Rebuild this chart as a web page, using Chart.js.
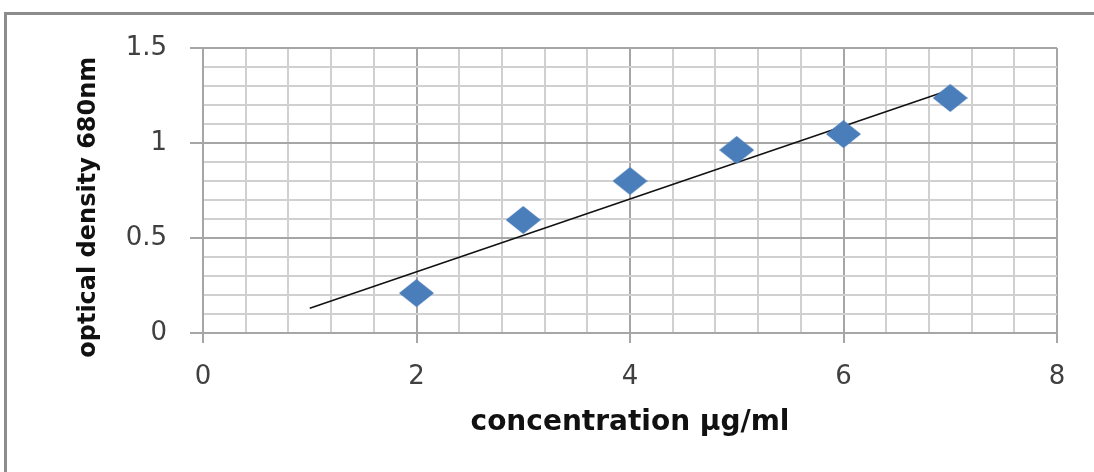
<!DOCTYPE html>
<html>
<head>
<meta charset="utf-8">
<script src="https://cdn.jsdelivr.net/npm/chart.js@4"></script>
<style>
    body { margin: 0; background: #fff; }
    #wrap { position: relative; width: 1094px; height: 472px; }
    #frame { position: absolute; left: 4px; top: 12px; right: -4px; bottom: -4px; border: 3px solid #8c8c8c; }
    #myChart { position: absolute; left: 0; top: 0; }
</style>
</head>
<body>
<div id="wrap">
    <div id="frame"></div>
    <canvas id="myChart" width="1094" height="472"></canvas>
</div>
<script>
// concentration (µg/ml) and measured optical density
var concentration = [2, 3, 4, 5, 6, 7]
var density = [0.21, 0.595, 0.80, 0.963, 1.047, 1.237]
// trend line as drawn in the picture (ends)
var trendX = [1, 7]
var trendY = [0.13, 1.28]

var xMajor = [0, 2, 4, 6, 8]
var yMajor = [0, 0.5, 1, 1.5]

diagram()

function isMajor(v, list) {
    return list.some(function (m) { return Math.abs(m - v) < 1e-6 })
}

function diamond() {
    var c = document.createElement('canvas')
    c.width = 35
    c.height = 28
    var g = c.getContext('2d')
    g.fillStyle = '#4a7ebb'
    g.beginPath()
    g.moveTo(17.5, 0)
    g.lineTo(35, 14)
    g.lineTo(17.5, 28)
    g.lineTo(0, 14)
    g.closePath()
    g.fill()
    return c
}

function diagram() {
    const ctx = document.getElementById('myChart');
    var pts = concentration.map(function (x, i) { return { x: x, y: density[i] } })
    var trend = trendX.map(function (x, i) { return { x: x, y: trendY[i] } })

    new Chart(ctx, {
        type: 'scatter',
        data: {
            datasets: [{
                label: 'trend',
                data: trend,
                showLine: true,
                borderColor: '#111',
                borderWidth: 1.5,
                pointRadius: 0,
                order: 2
            }, {
                label: 'OD',
                data: pts,
                pointStyle: diamond(),
                order: 1
            }]
        },
        options: {
            responsive: false,
            animation: false,
            layout: { padding: { top: 48, right: 37, bottom: 0, left: 0 } },
            plugins: { legend: { display: false }, tooltip: { enabled: false } },
            scales: {
                x: {
                    type: 'linear',
                    min: 0,
                    max: 8,
                    afterFit: function (s) { s.height = 139 },
                    border: { color: '#a6a6a6', width: 2 },
                    grid: {
                        color: function (c) { return isMajor(c.tick.value, xMajor) ? '#a6a6a6' : '#d0d0d0' },
                        lineWidth: 2,
                        tickLength: 10,
                        tickColor: function (c) { return isMajor(c.tick.value, xMajor) ? '#a6a6a6' : 'rgba(0,0,0,0)' },
                        tickWidth: 2
                    },
                    ticks: {
                        stepSize: 0.4,
                        autoSkip: false,
                        maxRotation: 0,
                        padding: 19,
                        color: '#404040',
                        font: { family: 'DejaVu Sans', size: 26 },
                        callback: function (v) { return isMajor(v, xMajor) ? String(Math.round(v)) : '' }
                    },
                    title: {
                        display: true,
                        text: 'concentration µg/ml',
                        color: '#111',
                        font: { family: 'DejaVu Sans', size: 28, weight: 'bold' },
                        padding: { top: 0, bottom: 32 }
                    }
                },
                y: {
                    min: 0,
                    max: 1.5,
                    afterFit: function (s) { s.width = 203 },
                    border: { color: '#a6a6a6', width: 2 },
                    grid: {
                        color: function (c) { return isMajor(c.tick.value, yMajor) ? '#a6a6a6' : '#d0d0d0' },
                        lineWidth: 2,
                        tickLength: 13,
                        tickColor: function (c) { return isMajor(c.tick.value, yMajor) ? '#a6a6a6' : 'rgba(0,0,0,0)' },
                        tickWidth: 2
                    },
                    ticks: {
                        stepSize: 0.1,
                        autoSkip: false,
                        padding: 23,
                        color: '#404040',
                        font: { family: 'DejaVu Sans', size: 26 },
                        callback: function (v) { return isMajor(v, yMajor) ? String(v) : '' }
                    },
                    title: {
                        display: true,
                        text: 'optical density 680nm    ',
                        color: '#111',
                        font: { family: 'DejaVu Sans', size: 24, weight: 'bold' },
                        padding: { top: 74, bottom: 0 }
                    }
                }
            }
        }
    });
}
</script>
</body>
</html>
